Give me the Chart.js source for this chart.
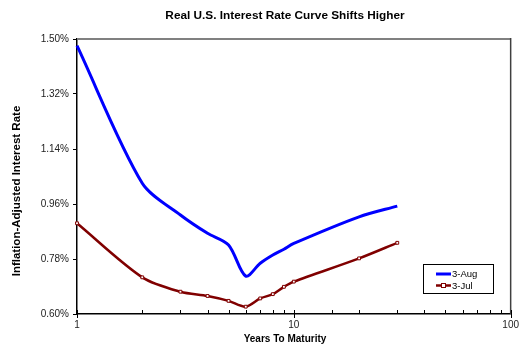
<!DOCTYPE html>
<html>
<head>
<meta charset="utf-8">
<script src="https://cdn.jsdelivr.net/npm/chart.js@4.4.1/dist/chart.umd.min.js"></script>
<style>
  html, body { margin: 0; padding: 0; background: #fff; }
  #wrap { width: 520px; height: 345px; }
</style>
</head>
<body>
<div id="wrap"><canvas id="c" width="520" height="345"></canvas></div>
<script>
// ---- data ----
const maturities = [1, 2, 3, 4, 5, 6, 7, 8, 9, 10, 20, 30];
const aug3 = [1.478, 1.028, 0.924, 0.864, 0.826, 0.724, 0.766, 0.793, 0.812, 0.831, 0.918, 0.953];
const jul3 = [0.897, 0.720, 0.673, 0.659, 0.643, 0.624, 0.651, 0.665, 0.689, 0.706, 0.782, 0.833];
const seriesNames = ['3-Aug', '3-Jul'];
const yTickValues = [0.60, 0.78, 0.96, 1.14, 1.32, 1.50];
const xTickLabels = [1, 10, 100];
const titleText = 'Real U.S. Interest Rate Curve Shifts Higher';
const xTitle = 'Years To Maturity';
const yTitle = 'Inflation-Adjusted Interest Rate';

const FONT = "'Liberation Sans', Arial, sans-serif";

const decorPlugin = {
  id: 'decor',
  afterDraw(chart) {
    const ctx = chart.ctx;
    const a = chart.chartArea;
    const xs = chart.scales.x;
    ctx.save();
    // top and right border
    ctx.strokeStyle = '#808080';
    ctx.lineWidth = 2;
    ctx.beginPath(); ctx.moveTo(a.left, a.top); ctx.lineTo(a.right, a.top); ctx.stroke();
    ctx.strokeStyle = '#404040';
    ctx.lineWidth = 1.5;
    ctx.beginPath(); ctx.moveTo(a.right, a.top - 1); ctx.lineTo(a.right, a.bottom); ctx.stroke();
    // x ticks (major cross, minor inside)
    ctx.strokeStyle = '#000';
    ctx.lineWidth = 1;
    xs.ticks.forEach(t => {
      const v = t.value;
      const px = Math.round(xs.getPixelForValue(v)) + 0.5;
      const major = Math.abs(Math.log10(v) - Math.round(Math.log10(v))) < 1e-9;
      ctx.beginPath();
      ctx.moveTo(px, a.bottom - 4);
      ctx.lineTo(px, a.bottom + (major ? 4 : 0));
      ctx.stroke();
    });
    // titles
    ctx.fillStyle = '#000';
    ctx.textAlign = 'center';
    ctx.textBaseline = 'middle';
    ctx.font = 'bold 11.8px ' + FONT;
    ctx.fillText(titleText, 285, 16);
    ctx.font = 'bold 10px ' + FONT;
    ctx.fillText(xTitle, 285, 339);
    ctx.save();
    ctx.translate(17, 191);
    ctx.rotate(-Math.PI / 2);
    ctx.font = 'bold 11.5px ' + FONT;
    ctx.fillText(yTitle, 0, 0);
    ctx.restore();
    // legend
    const lx = 423, ly = 264, lw = 70, lh = 29;
    ctx.fillStyle = '#fff';
    ctx.fillRect(lx, ly, lw, lh);
    ctx.strokeStyle = '#000';
    ctx.lineWidth = 1;
    ctx.strokeRect(lx + 0.5, ly + 0.5, lw, lh);
    const ds = chart.data.datasets;
    const rows = [274, 285.5];
    ds.forEach((d, i) => {
      const y = rows[i];
      ctx.strokeStyle = d.borderColor;
      ctx.lineWidth = d.borderWidth;
      ctx.beginPath(); ctx.moveTo(436, y); ctx.lineTo(451, y); ctx.stroke();
      if (d.pointRadius > 0) {
        ctx.fillStyle = '#fff';
        ctx.strokeStyle = d.borderColor;
        ctx.lineWidth = 1;
        ctx.fillRect(441.5, y - 2, 4, 4);
        ctx.strokeRect(441.5, y - 2, 4, 4);
      }
      ctx.fillStyle = '#000';
      ctx.font = '9.5px ' + FONT;
      ctx.textAlign = 'left';
      ctx.fillText(d.label, 452, y + 0.5);
    });
    ctx.restore();
  }
};

new Chart(document.getElementById('c'), {
  type: 'line',
  data: {
    datasets: [
      {
        label: seriesNames[0],
        data: maturities.map((m, i) => ({ x: m, y: aug3[i] })),
        borderColor: '#0000FF',
        borderWidth: 3,
        pointRadius: 0,
        tension: 0.3,
        fill: false,
        clip: 6
      },
      {
        label: seriesNames[1],
        data: maturities.map((m, i) => ({ x: m, y: jul3[i] })),
        borderColor: '#800000',
        backgroundColor: '#fff',
        borderWidth: 2.5,
        pointStyle: 'rect',
        pointRadius: 2,
        pointBorderWidth: 1,
        pointBackgroundColor: '#fff',
        pointBorderColor: '#800000',
        tension: 0.3,
        fill: false,
        clip: 6
      }
    ]
  },
  options: {
    responsive: false,
    animation: false,
    devicePixelRatio: 1,
    layout: { padding: { top: 39, right: 9, left: 0, bottom: 0 } },
    plugins: {
      legend: { display: false },
      title: { display: false },
      tooltip: { enabled: false }
    },
    scales: {
      x: {
        type: 'logarithmic',
        min: 1,
        max: 100,
        afterFit(s) { s.height = 31; },
        grid: { display: true, drawOnChartArea: false, drawTicks: true, tickLength: 4, color: 'rgba(0,0,0,0)' },
        border: { display: true, color: '#000', width: 1.5 },
        ticks: {
          autoSkip: false,
          maxRotation: 0,
          padding: 1,
          color: '#222',
          font: { family: FONT, size: 10 },
          callback(v) { return xTickLabels.includes(v) ? String(v) : ''; }
        }
      },
      y: {
        type: 'linear',
        min: yTickValues[0],
        max: yTickValues[yTickValues.length - 1],
        afterFit(s) { s.width = 77; },
        afterBuildTicks(s) { s.ticks = yTickValues.map(v => ({ value: v })); },
        grid: { display: true, drawOnChartArea: false, drawTicks: true, tickLength: 4, color: '#000' },
        border: { display: true, color: '#000', width: 1.5 },
        ticks: {
          padding: 4,
          color: '#222',
          font: { family: FONT, size: 10 },
          callback(v) { return Number(v).toFixed(2) + '%'; }
        }
      }
    }
  },
  plugins: [decorPlugin]
});
</script>
</body>
</html>
